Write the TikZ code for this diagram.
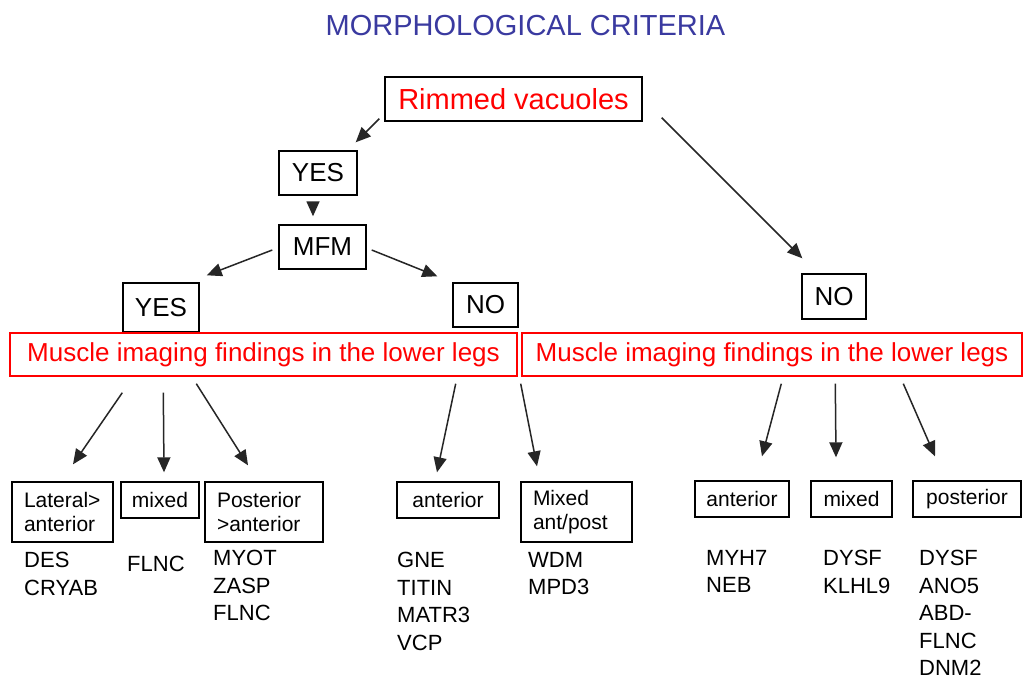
\documentclass[tikz,border=0pt]{standalone}
\usepackage{fontspec}
\setmainfont{Liberation Sans}
\usetikzlibrary{arrows.meta}
\definecolor{titleblue}{RGB}{58,58,160}
\begin{document}
\begin{tikzpicture}[x=1pt,y=-1pt,
  box/.style={draw=black,line width=1.4pt,inner sep=0pt,align=center},
  redbox/.style={draw=red,line width=1.4pt,inner sep=0pt,text=red,
    font=\fontsize{26}{30}\selectfont},
  bigtxt/.style={font=\fontsize{26}{30}\selectfont},
  smallbox/.style={box,font=\fontsize{21}{24}\selectfont},
  genes/.style={anchor=north west,inner sep=0pt,align=left,
    font=\fontsize{22}{27.5}\selectfont},
  arr/.style={draw=black!85,line width=1.5pt,-{Triangle[length=15pt,width=13pt]}}]
\useasboundingbox (0,0) rectangle (1028,680);
\fill[white] (0,0) rectangle (1028,680);

% title
\node[text=titleblue,font=\fontsize{29}{34}\selectfont] (title) at (525.5,25.5) {MORPHOLOGICAL CRITERIA};

% top boxes
\node[box,text=red,font=\fontsize{29}{34}\selectfont,minimum width=257pt,minimum height=44pt] (rim) at (513.5,99) {Rimmed vacuoles};
\node[box,bigtxt,minimum width=78pt,minimum height=44pt] (yes1) at (318,173) {YES};
\node[box,bigtxt,minimum width=87pt,minimum height=44pt] (mfm) at (322.5,247) {MFM};
\node[box,bigtxt,minimum width=76pt,minimum height=49pt] (yes2) at (161,307.5) {YES};
\node[box,bigtxt,minimum width=65pt,minimum height=44pt] (nol) at (485.5,305) {NO};
\node[box,bigtxt,minimum width=64pt,minimum height=45pt] (nor) at (834,296.5) {NO};

% imaging boxes
\node[redbox,minimum width=507pt,minimum height=43pt] (imgL) at (263.5,354.5) {Muscle imaging findings in the lower legs};
\node[redbox,minimum width=500pt,minimum height=43pt] (imgR) at (772,354.5) {Muscle imaging findings in the lower legs};

% bottom category boxes
\node[smallbox,align=left,text width=77pt,inner xsep=12pt,minimum height=60pt] (lat) at (62.5,512) {Lateral>\\anterior};
\node[smallbox,minimum width=78pt,minimum height=36pt] (mix1) at (160,500) {mixed};
\node[smallbox,align=left,text width=94pt,inner xsep=12pt,minimum height=60pt] (post1) at (264,512) {Posterior\\>anterior};
\node[smallbox,minimum width=102pt,minimum height=36pt] (ant1) at (448,500) {anterior};
\node[smallbox,align=left,text width=87pt,inner xsep=12pt,minimum height=60pt] (mixap) at (576.5,512) {Mixed\\ant/post};
\node[smallbox,minimum width=94pt,minimum height=36pt] (ant2) at (742,499) {anterior};
\node[smallbox,minimum width=81pt,minimum height=36pt] (mix2) at (851.5,499) {mixed};
\node[smallbox,minimum width=108pt,minimum height=36pt] (post2) at (967,499) {posterior};

% gene lists
\node[genes] (g1) at (24,552) {DES\\CRYAB};
\node[genes] (g2) at (127,556) {FLNC};
\node[genes] (g3) at (213,550) {MYOT\\ZASP\\FLNC};
\node[genes] (g4) at (397,552) {GNE\\TITIN\\MATR3\\VCP};
\node[genes] (g5) at (528,552) {WDM\\MPD3};
\node[genes] (g6) at (706,550) {MYH7\\NEB};
\node[genes] (g7) at (823,550) {DYSF\\KLHL9};
\node[genes] (g8) at (919,550) {DYSF\\ANO5\\ABD-\\FLNC\\DNM2};

% connectors
\draw[arr] ([xshift=-5pt,yshift=3pt]rim.south west) -- ([xshift=-2pt,yshift=8pt]yes1.north east);
\draw[arr] ([xshift=19pt,yshift=4pt]rim.south east) -- ([xshift=1pt,yshift=15pt]nor.north west);
\draw[arr] ([xshift=-5pt,yshift=-6pt]yes1.south) -- ([xshift=-9.5pt,yshift=8pt]mfm.north);
\draw[arr] ([xshift=-6pt,yshift=-3pt]mfm.west) -- ([xshift=7pt,yshift=7pt]yes2.north east);
\draw[arr] ([xshift=5pt,yshift=-3pt]mfm.east) -- ([xshift=-15pt,yshift=6pt]nol.north west);

\draw[arr] ([xshift=113pt,yshift=-16pt]imgL.south west) -- ([xshift=10.5pt,yshift=17pt]lat.north);
\draw[arr] ([xshift=154pt,yshift=-16pt]imgL.south west) -- ([xshift=4pt,yshift=9pt]mix1.north);
\draw[arr] ([xshift=187pt,yshift=-7pt]imgL.south west) -- ([xshift=-16pt,yshift=16pt]post1.north);
\draw[arr] ([xshift=-62pt,yshift=-7pt]imgL.south east) -- ([xshift=-11pt,yshift=9pt]ant1.north);
\draw[arr] ([xshift=3pt,yshift=-7pt]imgL.south east) -- ([xshift=-39.5pt,yshift=15pt]mixap.north);

\draw[arr] ([xshift=260pt,yshift=-7pt]imgR.south west) -- ([xshift=20pt,yshift=24pt]ant2.north);
\draw[arr] ([xshift=314pt,yshift=-7pt]imgR.south west) -- ([xshift=-15.5pt,yshift=23pt]mix2.north);
\draw[arr] ([xshift=382pt,yshift=-7pt]imgR.south west) -- ([xshift=-32pt,yshift=24pt]post2.north);
\end{tikzpicture}
\end{document}
